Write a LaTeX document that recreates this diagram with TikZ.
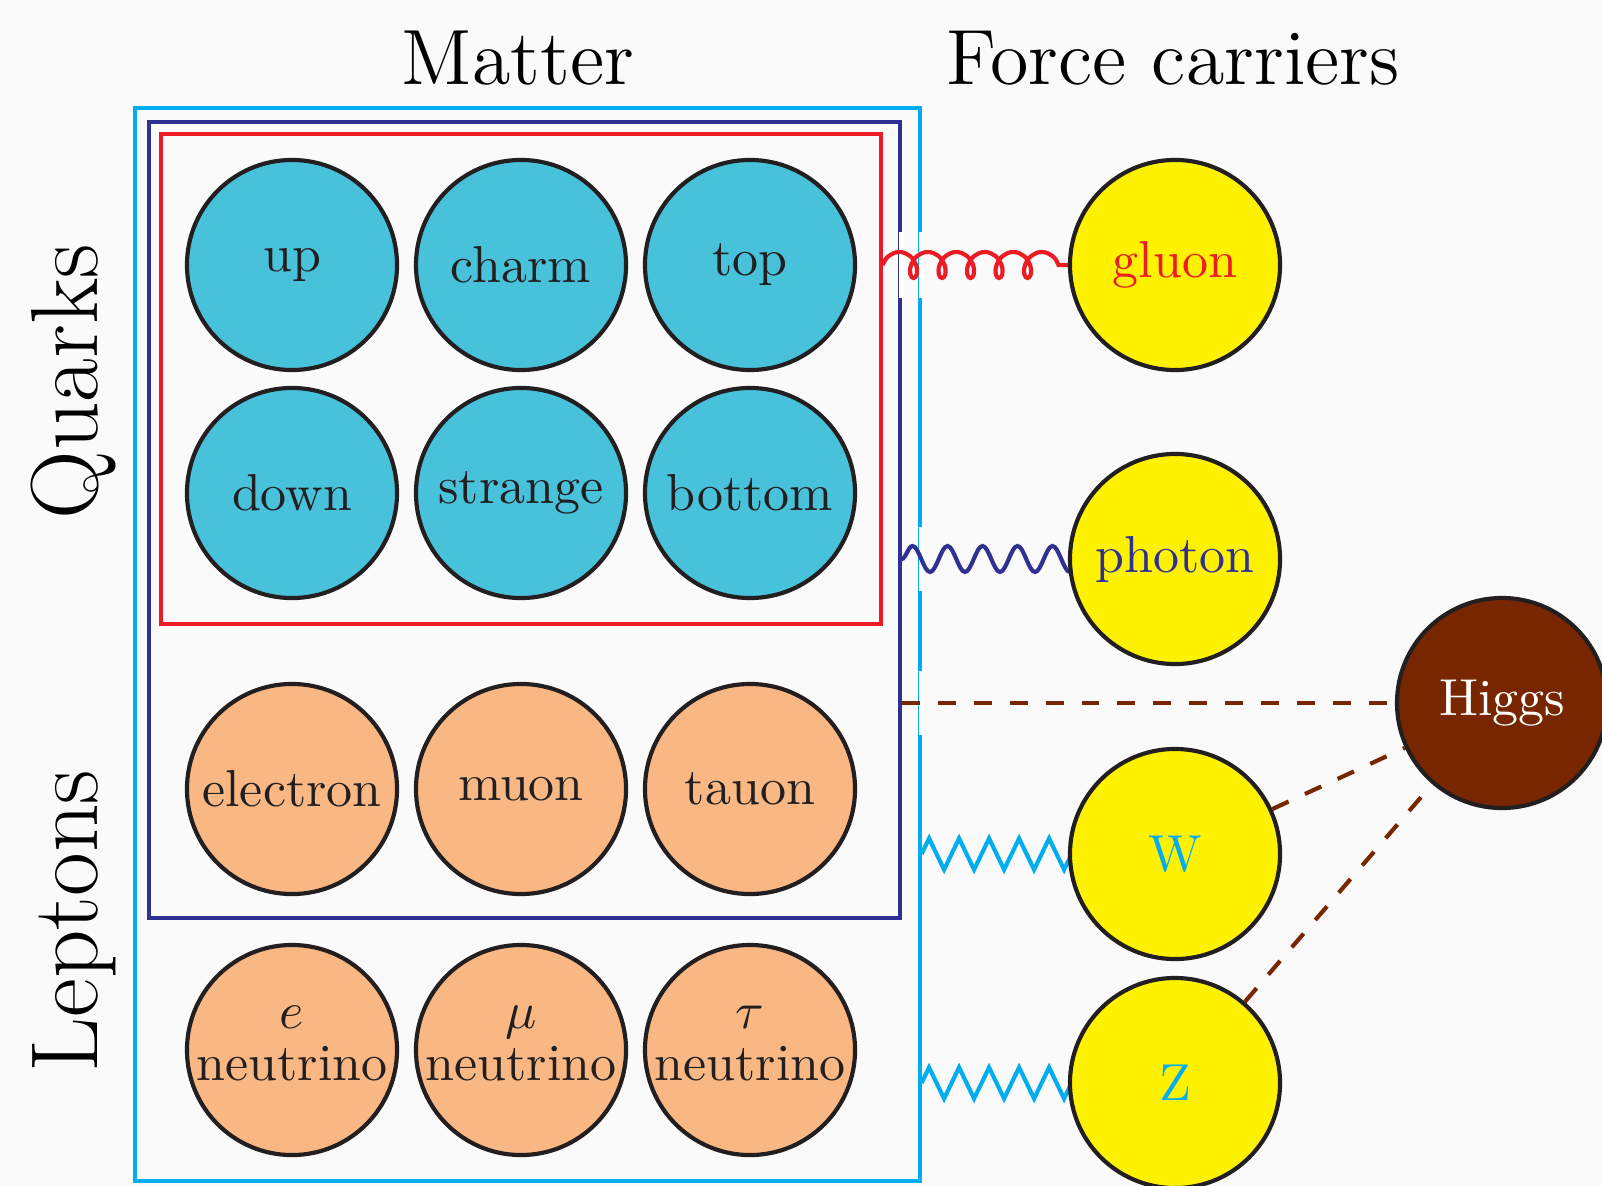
\documentclass[tikz,border=0pt]{standalone}
\usetikzlibrary{decorations.pathmorphing}

\definecolor{bgcolor}{HTML}{FAFAFA}
\definecolor{outline}{HTML}{231F20}
\definecolor{quarkfill}{HTML}{48C2DA}
\definecolor{leptonfill}{HTML}{F9B883}
\definecolor{bosonfill}{HTML}{FFF200}
\definecolor{higgsfill}{HTML}{782600}
\definecolor{mattercyan}{HTML}{00AEEF}
\definecolor{chargedblue}{HTML}{2E3192}
\definecolor{colourred}{HTML}{ED1C24}

\pgfdeclarelayer{paper}
\pgfdeclarelayer{links}
\pgfsetlayers{paper,links,main}

\begin{document}
\begin{tikzpicture}[x=0.19231pt, y=-0.19231pt,
  particle/.style={circle, draw=outline, line width=0.8pt, minimum size=40.4pt,
    inner sep=0pt, align=center, text=outline},
  quark/.style={particle, fill=quarkfill},
  lepton/.style={particle, fill=leptonfill},
  boson/.style={particle, fill=bosonfill},
  group/.style={draw, line width=0.6pt, inner sep=0pt},
  heading/.style={font=\Large, scale=1.047, anchor=base},
  sidelabel/.style={font=\fontsize{18.3}{22}\selectfont, rotate=90},
  gluonline/.style={draw=colourred, line width=0.8pt, decorate,
    decoration={coil, amplitude=2.5pt, segment length=5.48pt, aspect=0.74}},
  photonline/.style={draw=chargedblue, line width=0.8pt, decorate,
    decoration={snake, amplitude=2.5pt, segment length=6.73pt}},
  weakline/.style={draw=mattercyan, line width=0.8pt, decorate,
    decoration={zigzag, amplitude=3.0pt, segment length=5.77pt}},
  higgsline/.style={draw=higgsfill, line width=0.8pt, dash pattern=on 3.46pt off 3.46pt},
  gapmark/.style={draw=white, line width=1pt}
]
\begin{pgfonlayer}{paper}
  \fill[bgcolor] (0,0) rectangle (1602,1185);
\end{pgfonlayer}
\useasboundingbox (0,0) rectangle (1602,1185);

% headings
\node[heading] (matterhead) at (518,85) {Matter};
\node[heading] (forcehead) at (1173,85) {Force carriers};
\node[sidelabel] (quarkhead) at (74,382) {Quarks};
\node[sidelabel] (leptonhead) at (74,921) {Leptons};

% quarks
\node[quark] (up) at (292,265) {up};
\node[quark] (charm) at (521,265) {charm};
\node[quark] (top) at (750,265) {top};
\node[quark] (down) at (292,493) {down};
\node[quark] (strange) at (521,493) {strange};
\node[quark] (bottom) at (750,493) {bottom};

% leptons
\node[lepton] (electron) at (292,789) {electron};
\node[lepton] (muon) at (521,789) {muon};
\node[lepton] (tauon) at (750,789) {tauon};
\node[lepton] (enu) at (292,1050) {$e$\\[-2pt]neutrino\rule[-2.5pt]{0pt}{0pt}};
\node[lepton] (munu) at (521,1050) {$\mu$\\[-2pt]neutrino\rule[-2.5pt]{0pt}{0pt}};
\node[lepton] (taunu) at (750,1050) {$\tau$\\[-2pt]neutrino\rule[-2.5pt]{0pt}{0pt}};

% force carriers
\node[boson, text=colourred] (gluon) at (1175,265) {gluon};
\node[boson, text=chargedblue] (photon) at (1175,559) {photon};
\node[boson, text=mattercyan] (wboson) at (1175,854) {W};
\node[boson, text=mattercyan] (zboson) at (1175,1083) {Z};
\node[particle, fill=higgsfill, text=white] (higgs) at (1502,703) {Higgs};

% grouping boxes, with breaks where the interactions pass through
\begin{pgfonlayer}{paper}
  \node[group, draw=mattercyan, minimum width=150.96pt, minimum height=206.35pt] (matterbox) at (527.5,644.5) {};
  \node[group, draw=chargedblue, minimum width=144.42pt, minimum height=153.08pt] (chargedbox) at (524.5,520) {};
  \node[group, draw=colourred, minimum width=138.46pt, minimum height=94.23pt] (quarkbox) at (521,379) {};
  \draw[gapmark] (chargedbox.east |- gluon) ++(0,-33) -- ++(0,66);
  \draw[gapmark] (matterbox.east |- gluon) ++(0,-33) -- ++(0,66);
  \draw[gapmark] (matterbox.east |- photon) ++(0,-32) -- ++(0,64);
  \draw[gapmark] (matterbox.east |- higgs) ++(0,-32) -- ++(0,64);
\end{pgfonlayer}

% interactions, drawn beneath the particles
\begin{pgfonlayer}{links}
  \draw[gluonline] (quarkbox.east |- gluon) -- (gluon.west);
  \draw[photonline] (chargedbox.east |- photon) -- (photon.center);
  \draw[weakline] (matterbox.east |- wboson) -- (wboson.center);
  \draw[weakline] (matterbox.east |- zboson) -- (zboson.center);
  \draw[higgsline] (chargedbox.east |- higgs) -- (higgs.west);
  \draw[higgsline] (wboson) -- (higgs);
  \draw[higgsline] (zboson) -- (higgs);
\end{pgfonlayer}
\end{tikzpicture}
\end{document}
